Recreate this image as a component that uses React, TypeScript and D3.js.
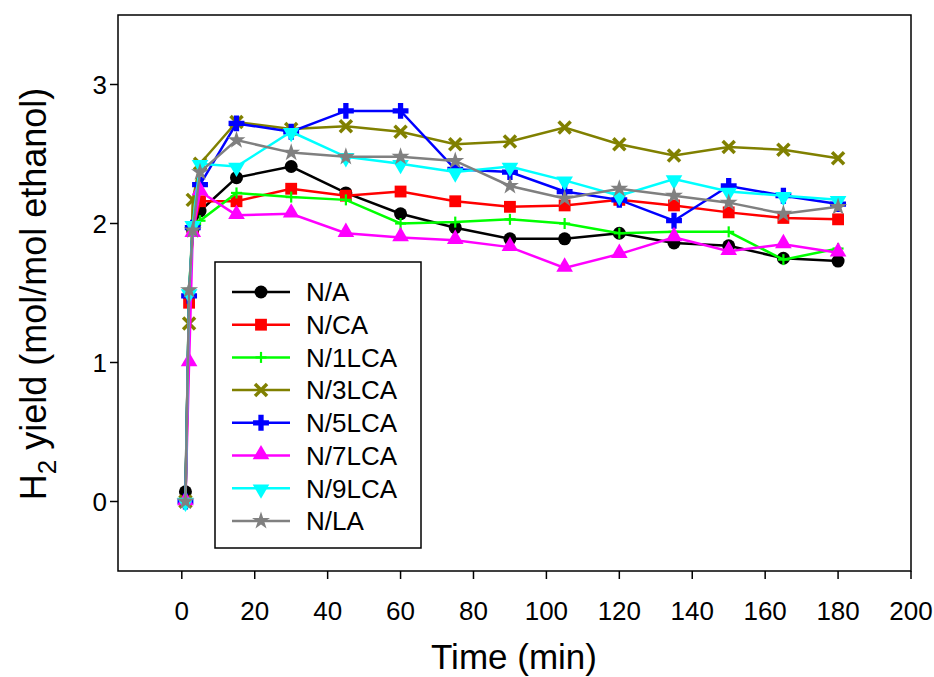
import React from "react";
import * as d3 from "d3";

const times = [1, 2, 3, 5, 15, 30, 45, 60, 75, 90, 105, 120, 135, 150, 165, 180];
const seriesNames = ["N/A", "N/CA", "N/1LCA", "N/3LCA", "N/5LCA", "N/7LCA", "N/9LCA", "N/LA"];
const NA = [0.07, 1.48, 1.95, 2.09, 2.33, 2.41, 2.22, 2.07, 1.97, 1.89, 1.89, 1.93, 1.86, 1.84, 1.75, 1.73];
const NCA = [0, 1.43, 1.95, 2.16, 2.16, 2.25, 2.2, 2.23, 2.16, 2.12, 2.13, 2.17, 2.13, 2.08, 2.04, 2.03];
const N1LCA = [0, 1.53, 1.95, 2.02, 2.22, 2.19, 2.17, 2.0, 2.01, 2.03, 2.0, 1.93, 1.94, 1.94, 1.74, 1.82];
const N3LCA = [0, 1.28, 2.17, 2.43, 2.73, 2.68, 2.7, 2.66, 2.57, 2.59, 2.69, 2.57, 2.49, 2.55, 2.53, 2.47];
const N5LCA = [0, 1.48, 1.97, 2.28, 2.72, 2.66, 2.81, 2.81, 2.39, 2.37, 2.23, 2.17, 2.02, 2.27, 2.2, 2.14];
const N7LCA = [0, 1.0, 1.93, 2.23, 2.06, 2.07, 1.93, 1.9, 1.88, 1.83, 1.68, 1.78, 1.9, 1.8, 1.85, 1.79];
const N9LCA = [0, 1.5, 1.99, 2.43, 2.41, 2.66, 2.48, 2.43, 2.37, 2.41, 2.31, 2.2, 2.32, 2.23, 2.2, 2.17];
const NLA = [0, 1.52, 1.95, 2.37, 2.6, 2.51, 2.48, 2.48, 2.45, 2.27, 2.18, 2.25, 2.2, 2.15, 2.07, 2.12];
const seriesValues = [NA, NCA, N1LCA, N3LCA, N5LCA, N7LCA, N9LCA, NLA];
const colors = ["#000000", "#ff0000", "#00ff00", "#808000", "#0000ff", "#ff00ff", "#00ffff", "#808080"];
const markers = ["circle", "square", "plus", "x", "fatplus", "triUp", "triDown", "star"];
const xTicks = [0, 20, 40, 60, 80, 100, 120, 140, 160, 180, 200];
const yTicks = [0, 1, 2, 3];

const W = 934, H = 677;
const L = 118, R = 911, T = 15, B = 571;
const FONT = "'Liberation Sans', Arial, sans-serif";

function Marker({ type, x, y, color }: { type: string; x: number; y: number; color: string }) {
  const t = `translate(${x},${y})`;
  switch (type) {
    case "circle":
      return <circle cx={x} cy={y} r={6.5} fill={color} />;
    case "square":
      return <path transform={t} d={d3.symbol(d3.symbolSquare, 140)()!} fill={color} />;
    case "plus":
      return (
        <g transform={t} stroke={color} strokeWidth={2.2}>
          <line x1={-5.5} x2={5.5} y1={0} y2={0} />
          <line x1={0} x2={0} y1={-5.5} y2={5.5} />
        </g>
      );
    case "x":
      return (
        <g transform={t} stroke={color} strokeWidth={3.5}>
          <line x1={-6} x2={6} y1={-6} y2={6} />
          <line x1={-6} x2={6} y1={6} y2={-6} />
        </g>
      );
    case "fatplus":
      return <path transform={t} d={d3.symbol(d3.symbolCross, 140)()!} fill={color} />;
    case "triUp":
      return <path transform={`${t} translate(0,-1)`} d={d3.symbol(d3.symbolTriangle, 120)()!} fill={color} />;
    case "triDown":
      return <path transform={`${t} rotate(180) translate(0,-1)`} d={d3.symbol(d3.symbolTriangle, 120)()!} fill={color} />;
    case "star":
      return <path transform={t} d={d3.symbol(d3.symbolStar, 100)()!} fill={color} />;
  }
  return null;
}

export default function App() {
  const x = d3.scaleLinear().domain([-17.5, 200]).range([L, R]);
  const y = d3.scaleLinear().domain([-0.5, 3.5]).range([B, T]);
  const line = d3.line<number>().x((_, i) => x(times[i])).y((v) => y(v));

  const legX = 215, legY = 262, legW = 206, legH = 286;
  const rowY0 = 292, rowDy = 32.7;

  return (
    <svg width={W} height={H} style={{ position: "absolute", left: 0, top: 0, background: "#fff" }} fontFamily={FONT}>
      <rect x={0} y={0} width={W} height={H} fill="#fff" />
      {seriesValues.map((vals, si) => (
        <g key={si}>
          <path d={line(vals)!} fill="none" stroke={colors[si]} strokeWidth={2.5} />
          {vals.map((v, i) => (
            <Marker key={i} type={markers[si]} x={x(times[i])} y={y(v)} color={colors[si]} />
          ))}
        </g>
      ))}
      <rect x={L} y={T} width={R - L} height={B - T} fill="none" stroke="#000" strokeWidth={1.5} />
      {xTicks.map((t) => (
        <g key={t}>
          <line x1={x(t)} x2={x(t)} y1={B} y2={B + 8} stroke="#000" strokeWidth={1.5} />
          <text x={x(t)} y={B + 49} textAnchor="middle" fontSize={26}>{t}</text>
        </g>
      ))}
      {yTicks.map((t) => (
        <g key={t}>
          <line x1={L - 8} x2={L} y1={y(t)} y2={y(t)} stroke="#000" strokeWidth={1.5} />
          <text x={L - 11} y={y(t)} dy="0.35em" textAnchor="end" fontSize={26}>{t}</text>
        </g>
      ))}
      <text x={514} y={669} textAnchor="middle" fontSize={35}>Time (min)</text>
      <text transform={`translate(46,294) rotate(-90)`} textAnchor="middle" fontSize={36}>
        H<tspan fontSize={26} dy={10}>2</tspan><tspan dy={-10}> yield (mol/mol ethanol)</tspan>
      </text>
      <rect x={legX} y={legY} width={legW} height={legH} fill="#fff" stroke="#000" strokeWidth={1.5} />
      {seriesNames.map((n, i) => {
        const ry = rowY0 + i * rowDy;
        return (
          <g key={n}>
            <line x1={232} x2={290} y1={ry} y2={ry} stroke={colors[i]} strokeWidth={2.5} />
            <Marker type={markers[i]} x={261} y={ry} color={colors[i]} />
            <text x={306} y={ry} dy="0.36em" fontSize={26}>{n}</text>
          </g>
        );
      })}
    </svg>
  );
}
